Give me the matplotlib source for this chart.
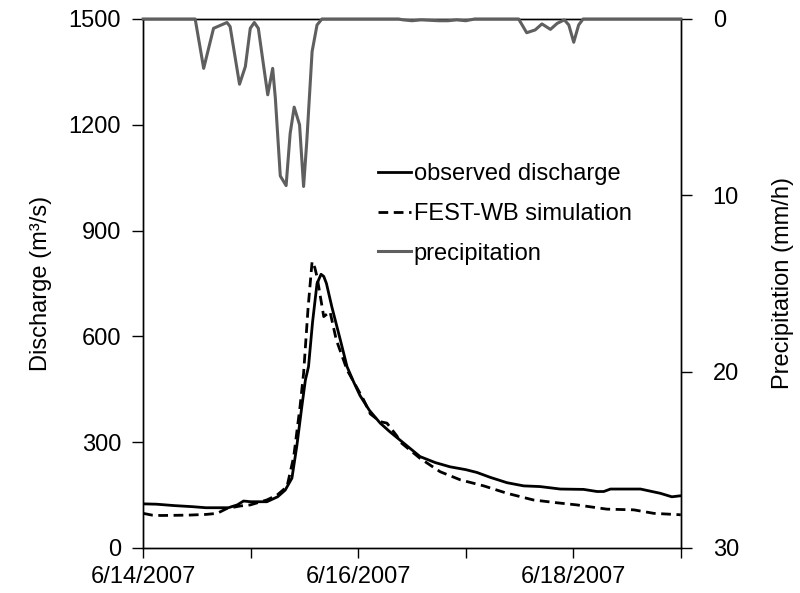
"""Observed vs simulated discharge with inverted precipitation hyetograph."""
import matplotlib
matplotlib.use('Agg')
import matplotlib.pyplot as plt
import matplotlib.dates as mdates
import pandas as pd

plt.rcParams['font.family'] = ['Liberation Sans', 'DejaVu Sans']

start = pd.Timestamp('2007-06-14 00:00')

# observed discharge (m3/s), hours from start
obs_hours = [0, 3, 7, 11, 14, 19, 21, 22.4, 24, 27.6, 30, 31.7, 33.2, 34.3,
             35.4, 36.2, 36.9, 37.8, 38.8, 39.7, 40.3, 40.9, 42.1, 44, 45.5,
             47, 48.4, 50.5, 52.9, 55, 57.4, 61.8, 65.2, 68.5, 72, 74.5, 77.5,
             81.2, 84.9, 88.6, 93.1, 98.3, 101.3, 102.8, 104.3, 111, 115.4,
             118, 120]
obs_q = [125, 124, 120, 117, 114, 114, 122, 133, 131, 131, 145, 164, 198, 290,
         400, 476, 514, 640, 750, 776, 770, 750, 684, 590, 514,
         470, 432, 390, 354, 330, 305, 259, 242, 230, 222, 214, 200,
         185, 176, 174, 167, 166, 160, 160, 167, 167, 155,
         145, 148]

# FEST-WB simulated discharge (m3/s)
sim_hours = [0, 2, 4, 10, 14, 16.5, 18.7, 21.7, 23.9, 27.6, 29.9, 32.1, 33.6,
             35, 35.8, 36.8, 37.7, 38.3, 38.8, 40.3, 41.7, 43.1, 45.5, 49.2,
             50.7, 52.9, 54.4, 56.6, 57.4, 61.8, 66.3, 70.8, 76, 81.2, 87.1,
             92.4, 96.8, 103.5, 109.5, 114, 120]
sim_q = [98, 93, 92, 93, 95, 98, 112, 119, 122, 136, 150, 174, 259,
         400, 495, 680, 812, 795, 769, 656, 670, 590, 505, 420,
         380, 358, 354, 318, 300, 254, 216, 193, 176, 155, 136,
         128, 122, 110, 108, 98, 94]

# precipitation (mm/h)
rain_hours = [0, 11.6, 13.5, 15.7, 18.7, 19.4, 21.5, 22.8, 23.9, 24.8, 25.7,
              26.9, 27.8, 28.9, 29.5, 30.6, 31.9, 32.8, 33.7, 34.9, 35.8,
              36.5, 37.7, 38.8, 39.9, 57, 58, 60, 62, 66, 68, 70, 72, 74,
              83.8, 85.6, 87.5, 89, 90.9, 92.4, 94, 95, 96.1, 97.2, 98.2, 120]
rain_mm = [0, 0, 2.8, 0.53, 0.2, 0.43, 3.7, 2.7, 0.53, 0.2, 0.53,
           2.7, 4.3, 2.8, 4.5, 8.9, 9.45, 6.5, 5.0, 6.0, 9.5,
           7.0, 1.85, 0.34, 0, 0, 0.05, 0.1, 0.05, 0.1, 0.1, 0.05, 0.1, 0,
           0, 0.78, 0.62, 0.28, 0.59, 0.25, 0.05, 0.34, 1.32, 0.34, 0, 0]


def to_time(hours):
    return start + pd.to_timedelta(hours, unit='h')


fig = plt.figure(figsize=(8, 5.93), dpi=100)
ax = fig.add_axes([0.179, 0.076, 0.672, 0.892])
ax2 = ax.twinx()

l1, = ax.plot(to_time(obs_hours), obs_q, color='black', lw=2.0,
              label='observed discharge')
l2, = ax.plot(to_time(sim_hours), sim_q, color='black', lw=2.0,
              ls=(0, (3.5, 2)), label='FEST-WB simulation')
l3, = ax2.plot(to_time(rain_hours), rain_mm, color='#5f5f5f', lw=2.2,
               label='precipitation', clip_on=False, zorder=5)

ax.set_xlim(start, start + pd.Timedelta(days=5))
ax.set_ylim(0, 1500)
ax.set_yticks([0, 300, 600, 900, 1200, 1500])
ax2.set_ylim(30, 0)
ax2.set_yticks([0, 10, 20, 30])

ax.xaxis.set_major_locator(mdates.DayLocator(interval=1))
ax.xaxis.set_major_formatter(
    plt.FuncFormatter(lambda v, p: mdates.num2date(v).strftime('%-m/%-d/%Y')
                      if (mdates.num2date(v).day - 14) % 2 == 0 else ''))

for a in (ax, ax2):
    a.tick_params(labelsize=17, direction='out', length=8, width=1,
                  colors='black')
    for s in a.spines.values():
        s.set_linewidth(1)
ax.tick_params(axis='x', length=7, pad=6)
ax.tick_params(axis='y', pad=8)
ax2.tick_params(axis='y', pad=15)

ax.set_ylabel('Discharge (m³/s)', fontsize=17, labelpad=12)
ax2.set_ylabel('Precipitation (mm/h)', fontsize=17, labelpad=24)

ax.legend(handles=[l1, l2, l3], loc='upper left',
          bbox_to_anchor=(0.42, 0.745), frameon=False, fontsize=17,
          handlelength=1.4, handletextpad=0.1, labelspacing=0.75,
          borderaxespad=0)

fig.savefig('out.png', dpi=100)
